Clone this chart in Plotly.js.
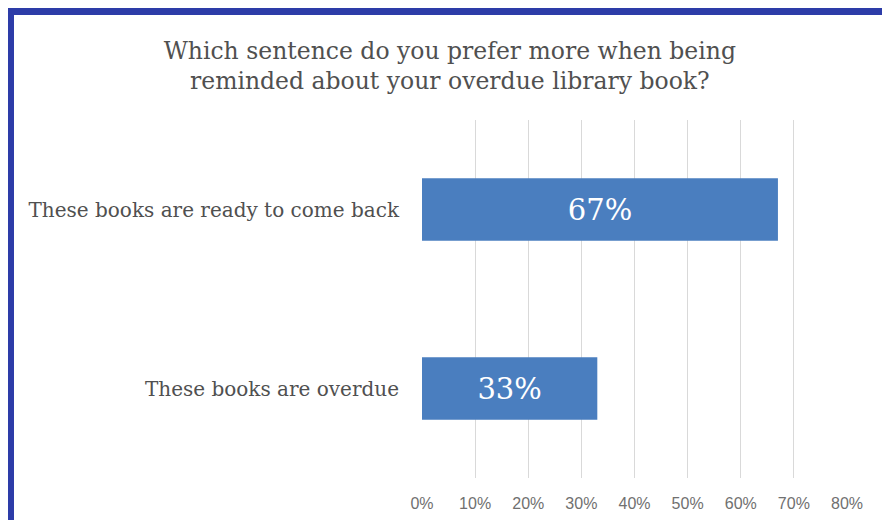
<!DOCTYPE html>
<html>
<head>
<meta charset="utf-8">
<script src="https://cdn.plot.ly/plotly-3.0.1.min.js"></script>
<style>
  html, body { margin: 0; padding: 0; background: #ffffff; }
  #wrap { position: relative; width: 882px; height: 520px; overflow: hidden; }
  #chart { position: absolute; left: 0; top: 0; width: 882px; height: 520px; }
  .frame { position: absolute; background: #2d3ca8; pointer-events: none; }
</style>
</head>
<body>
<div id="wrap">
  <div id="chart"></div>
  <div class="frame" style="left:8px; top:8px; width:874px; height:7px;"></div>
  <div class="frame" style="left:8px; top:8px; width:6px; height:512px;"></div>
</div>
<script>
const categories = ["These books are ready to come back", "These books are overdue"];
const values = [67, 33];
const valueLabels = ["67%", "33%"];
const tickVals = [0, 10, 20, 30, 40, 50, 60, 70, 80];
const tickText = ["0%", "10%", "20%", "30%", "40%", "50%", "60%", "70%", "80%"];

const trace = {
  type: "bar",
  orientation: "h",
  y: categories,
  x: values,
  text: valueLabels,
  textposition: "inside",
  insidetextanchor: "middle",
  textfont: { family: "DejaVu Serif, serif", size: 29, color: "#ffffff" },
  marker: { color: "#4a7ebf" },
  hoverinfo: "none"
};

const layout = {
  width: 882,
  height: 520,
  margin: { l: 422, r: 35, t: 120, b: 42 },
  paper_bgcolor: "#ffffff",
  plot_bgcolor: "#ffffff",
  showlegend: false,
  bargap: 0.65,
  title: {
    text: "Which sentence do you prefer more when being<br>reminded about your overdue library book?",
    font: { family: "DejaVu Serif, serif", size: 23.5, color: "#505050" },
    x: 0.51,
    xanchor: "center",
    y: 0.8875,
    yanchor: "middle",
    yref: "container"
  },
  xaxis: {
    range: [0, 80],
    tickvals: tickVals,
    ticktext: tickText,
    showgrid: true,
    gridcolor: "#d9d9d9",
    gridwidth: 1,
    zeroline: false,
    showline: false,
    ticks: "",
    ticklabelstandoff: 14,
    tickfont: { family: "Liberation Sans, Arial, sans-serif", size: 16, color: "#707070" },
    fixedrange: true
  },
  yaxis: {
    autorange: "reversed",
    showgrid: false,
    zeroline: false,
    showline: false,
    ticks: "",
    ticklabelstandoff: 22,
    tickfont: { family: "DejaVu Serif, serif", size: 20, color: "#505050" },
    fixedrange: true
  }
};

Plotly.newPlot("chart", [trace], layout, { displayModeBar: false, staticPlot: true });
</script>
</body>
</html>
